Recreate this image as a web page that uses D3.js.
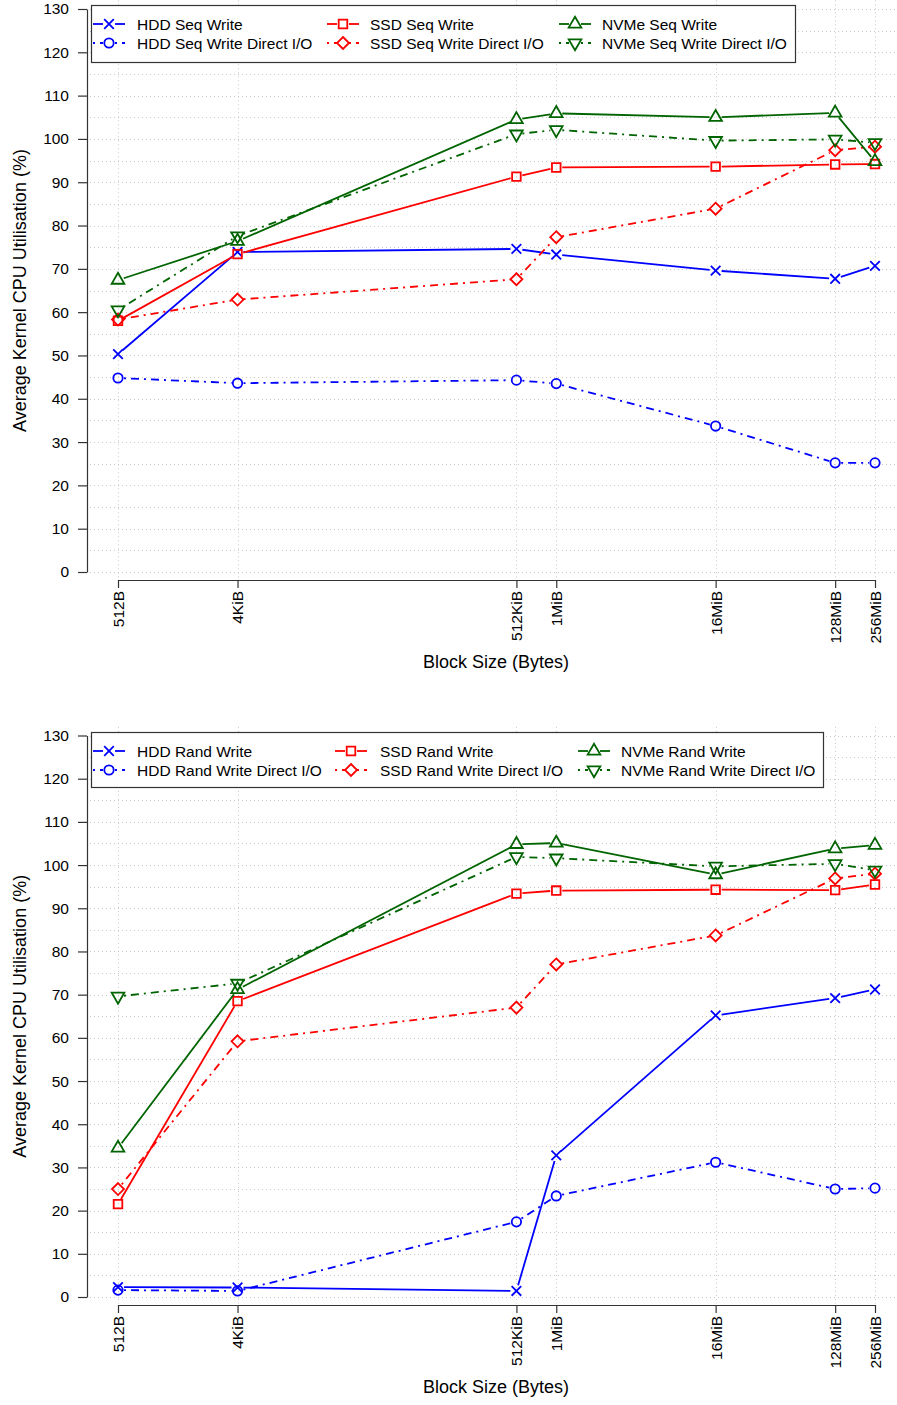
<!DOCTYPE html>
<html>
<head>
<meta charset="utf-8">
<script src="https://cdn.jsdelivr.net/npm/d3@7"></script>
<style>
  html, body { margin: 0; padding: 0; background: #fff; }
  svg { display: block; font-family: "Liberation Sans", Arial, Helvetica, sans-serif; }
</style>
</head>
<body>
<svg id="chart" width="897" height="1405"></svg>
<script>
// ---------- data ----------
const xLabels = ["512B", "4KiB", "512KiB", "1MiB", "16MiB", "128MiB", "256MiB"];
const xBytes = [512, 4096, 524288, 1048576, 16777216, 134217728, 268435456];
const yTicks = [0, 10, 20, 30, 40, 50, 60, 70, 80, 90, 100, 110, 120, 130];

// Sequential write panel
const seqLabels = ["HDD Seq Write", "HDD Seq Write Direct I/O", "SSD Seq Write",
                   "SSD Seq Write Direct I/O", "NVMe Seq Write", "NVMe Seq Write Direct I/O"];
const hddSeq        = [50.3, 73.9, 74.6, 73.3, 69.6, 67.7, 70.7];
const hddSeqDirect  = [44.8, 43.6, 44.3, 43.5, 33.7, 25.2, 25.2];
const ssdSeq        = [58.0, 73.4, 91.3, 93.4, 93.6, 94.1, 94.2];
const ssdSeqDirect  = [58.3, 62.9, 67.6, 77.3, 83.9, 97.4, 98.2];
const nvmeSeq       = [67.4, 76.4, 104.5, 105.9, 105.0, 106.0, 94.8];
const nvmeSeqDirect = [60.5, 77.6, 101.1, 102.1, 99.6, 99.9, 99.1];

// Random write panel
const randLabels = ["HDD Rand Write", "HDD Rand Write Direct I/O", "SSD Rand Write",
                    "SSD Rand Write Direct I/O", "NVMe Rand Write", "NVMe Rand Write Direct I/O"];
const hddRand        = [2.3, 2.2, 1.4, 32.8, 65.2, 69.2, 71.2];
const hddRandDirect  = [1.6, 1.4, 17.4, 23.4, 31.2, 25.0, 25.2];
const ssdRand        = [21.5, 68.5, 93.4, 94.1, 94.3, 94.2, 95.5];
const ssdRandDirect  = [25.0, 59.2, 67.0, 77.0, 83.7, 96.9, 98.0];
const nvmeRand       = [34.5, 71.2, 104.8, 105.1, 97.8, 103.8, 104.6];
const nvmeRandDirect = [69.6, 72.6, 101.9, 101.6, 99.7, 100.3, 98.8];

const seriesColors = ["#0000ff", "#0000ff", "#ff0000", "#ff0000", "#006400", "#006400"];
const seriesMarkers = ["times", "circle", "square", "diamond", "triUp", "triDown"];
const seriesDashed = [false, true, false, true, false, true];

// ---------- helpers ----------
const R = 4.7;
function markerPath(type) {
  const p = d3.path();
  if (type === "times") {
    const s = 4.8;
    p.moveTo(-s, -s); p.lineTo(s, s); p.moveTo(-s, s); p.lineTo(s, -s);
  } else if (type === "circle") {
    p.arc(0, 0, R, 0, 2 * Math.PI); p.closePath();
  } else if (type === "square") {
    const s = 4.3;
    p.rect(-s, -s, 2 * s, 2 * s);
  } else if (type === "diamond") {
    const s = 6.0;
    p.moveTo(0, -s); p.lineTo(s, 0); p.lineTo(0, s); p.lineTo(-s, 0); p.closePath();
  } else if (type === "triUp") {
    p.moveTo(0, -1.555 * R); p.lineTo(1.347 * R, 0.778 * R); p.lineTo(-1.347 * R, 0.778 * R); p.closePath();
  } else if (type === "triDown") {
    p.moveTo(0, 1.555 * R); p.lineTo(1.347 * R, -0.778 * R); p.lineTo(-1.347 * R, -0.778 * R); p.closePath();
  }
  return p.toString();
}

const svg = d3.select("#chart");
const GAP = 6;
const DASH = "2,5,8,5";
const LW = 1.8;

function drawPanel(cfg) {
  const g = svg.append("g");
  const x = d3.scaleLog().base(2).domain([xBytes[0], xBytes[xBytes.length - 1]]).range([118, 875]);
  const y = d3.scaleLinear().domain([0, 130]).range([cfg.yBottom, cfg.yTop]);

  // grid
  const grid = g.append("g").attr("stroke", "#c8c8c8").attr("stroke-width", 1)
    .attr("stroke-dasharray", "1,3");
  d3.range(0, 131, 5).forEach(v => {
    grid.append("line").attr("x1", 90).attr("x2", 897)
      .attr("y1", Math.round(y(v)) + 0.5).attr("y2", Math.round(y(v)) + 0.5);
  });
  xBytes.forEach(b => {
    grid.append("line").attr("x1", Math.round(x(b)) + 0.5).attr("x2", Math.round(x(b)) + 0.5)
      .attr("y1", y(132)).attr("y2", y(-1.5));
  });

  // y axis
  const yAxis = g.append("g").attr("transform", "translate(87,0)")
    .call(d3.axisLeft(y).tickValues(yTicks).tickSize(9).tickSizeOuter(0).tickPadding(9));
  yAxis.selectAll("path, line").attr("stroke", "#333").attr("stroke-width", 1.2);
  yAxis.selectAll("text").attr("font-size", 15.5).attr("fill", "#000")
    .attr("font-family", "Liberation Sans, Arial, sans-serif");

  // x axis
  const xAxis = g.append("g").attr("transform", `translate(0,${cfg.yBottom + 8})`)
    .call(d3.axisBottom(x).tickValues(xBytes).tickFormat((d, i) => xLabels[i])
      .tickSize(8).tickSizeOuter(0));
  xAxis.selectAll("path, line").attr("stroke", "#333").attr("stroke-width", 1.2);
  xAxis.selectAll("text").attr("font-size", 15.5).attr("fill", "#000")
    .attr("font-family", "Liberation Sans, Arial, sans-serif")
    .attr("transform", "rotate(-90)")
    .attr("text-anchor", "end")
    .attr("x", -11).attr("y", 0).attr("dy", "0.35em");

  // axis titles
  g.append("text").attr("x", 496).attr("y", cfg.yBottom + 96)
    .attr("text-anchor", "middle").attr("font-size", 18).text("Block Size (Bytes)");
  g.append("text")
    .attr("transform", `translate(26,${(cfg.yBottom + cfg.yTop) / 2}) rotate(-90)`)
    .attr("text-anchor", "middle").attr("font-size", 18)
    .text("Average Kernel CPU Utilisation (%)");

  // series
  cfg.series.forEach((vals, si) => {
    const pts = vals.map((v, i) => [x(xBytes[i]), y(v)]);
    const sg = g.append("g");
    for (let i = 0; i < pts.length - 1; i++) {
      const [x1, y1] = pts[i], [x2, y2] = pts[i + 1];
      const dx = x2 - x1, dy = y2 - y1, len = Math.hypot(dx, dy);
      if (len <= 2 * GAP) continue;
      const ux = dx / len, uy = dy / len;
      sg.append("line")
        .attr("x1", x1 + ux * GAP).attr("y1", y1 + uy * GAP)
        .attr("x2", x2 - ux * GAP).attr("y2", y2 - uy * GAP)
        .attr("stroke", seriesColors[si]).attr("stroke-width", LW)
        .attr("stroke-dasharray", seriesDashed[si] ? DASH : null);
    }
    sg.selectAll("path.m").data(pts).join("path").attr("class", "m")
      .attr("transform", d => `translate(${d[0]},${d[1]})`)
      .attr("d", markerPath(seriesMarkers[si]))
      .attr("fill", "none").attr("stroke", seriesColors[si]).attr("stroke-width", LW);
  });

  // legend
  const L = cfg.legend;
  const lg = g.append("g");
  lg.append("rect").attr("x", L.x + 0.5).attr("y", L.y + 0.5).attr("width", L.w).attr("height", L.h)
    .attr("fill", "#fff").attr("stroke", "#333").attr("stroke-width", 1.2);
  cfg.labels.forEach((lab, si) => {
    const col = Math.floor(si / 2), row = si % 2;
    const sx = L.sampleX[col], ry = L.rows[row];
    const cx = sx + 16;
    [[sx, cx - GAP], [cx + GAP, sx + 32]].forEach(([a, b]) => {
      lg.append("line").attr("x1", a).attr("x2", b).attr("y1", ry).attr("y2", ry)
        .attr("stroke", seriesColors[si]).attr("stroke-width", LW)
        .attr("stroke-dasharray", seriesDashed[si] ? DASH : null);
    });
    lg.append("path").attr("transform", `translate(${cx},${ry})`)
      .attr("d", markerPath(seriesMarkers[si]))
      .attr("fill", "none").attr("stroke", seriesColors[si]).attr("stroke-width", LW);
    lg.append("text").attr("x", L.textX[col]).attr("y", ry).attr("dy", "0.36em")
      .attr("font-size", 15.5).text(lab);
  });
}

drawPanel({
  yBottom: 572, yTop: 9,
  series: [hddSeq, hddSeqDirect, ssdSeq, ssdSeqDirect, nvmeSeq, nvmeSeqDirect],
  labels: seqLabels,
  legend: { x: 91, y: 5, w: 704, h: 57, sampleX: [93, 327, 559], textX: [137, 370, 602], rows: [24, 43] }
});

drawPanel({
  yBottom: 1297, yTop: 735.5,
  series: [hddRand, hddRandDirect, ssdRand, ssdRandDirect, nvmeRand, nvmeRandDirect],
  labels: randLabels,
  legend: { x: 91, y: 732, w: 732, h: 55, sampleX: [93, 335, 578], textX: [137, 380, 621], rows: [751, 770] }
});
</script>
</body>
</html>
